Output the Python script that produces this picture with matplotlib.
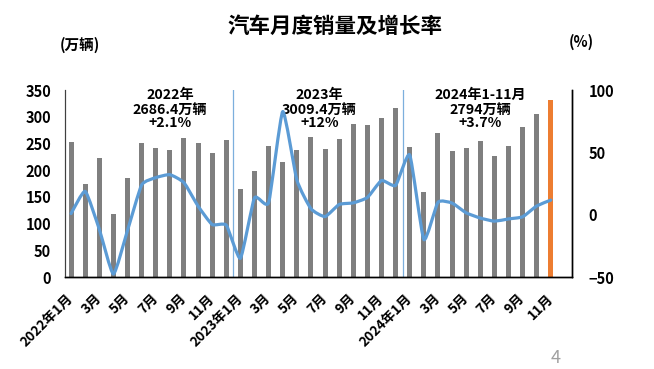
import numpy as np
import matplotlib
matplotlib.use('Agg')
import matplotlib.pyplot as plt
from matplotlib.path import Path
from matplotlib.patches import PathPatch

plt.rcParams['font.family'] = ['Noto Sans CJK SC', 'DejaVu Sans']
plt.rcParams['font.weight'] = 'bold'

### monthly data, 2022-01 .. 2024-11
sales = [253.1, 173.7, 223.4, 118.1, 186.2, 250.2, 242.0, 238.3, 261.0, 250.0, 232.7, 255.6,
         164.9, 197.6, 245.1, 215.9, 238.2, 262.2, 238.7, 258.2, 285.8, 285.3, 297.0, 315.6,
         243.9, 158.4, 269.4, 235.9, 241.7, 255.2, 226.2, 245.3, 280.9, 305.3, 331.7]
growth = [0.9, 18.7, -11.7, -47.6, -12.6, 23.8, 29.7, 32.1, 25.7, 6.9, -7.9, -8.4,
          -35.0, 13.5, 9.7, 82.7, 27.9, 4.8, -1.5, 8.2, 9.5, 13.8, 27.4, 23.5,
          47.9, -19.9, 9.9, 9.3, 1.5, -2.7, -5.2, -3.4, -1.7, 7.0, 11.7]
tickLabels = ['2022年1月', '3月', '5月', '7月', '9月', '11月',
              '2023年1月', '3月', '5月', '7月', '9月', '11月',
              '2024年1月', '3月', '5月', '7月', '9月', '11月']
yearNotes = ['2022年\n2686.4万辆\n+2.1%', '2023年\n3009.4万辆\n+12%', '2024年1-11月\n2794万辆\n+3.7%']

gray = '#7f7f7f'
orange = '#ed7d31'
blue = '#5b9bd5'

x = np.arange(len(sales))
barColors = [gray] * (len(sales) - 1) + [orange]

fig = plt.figure(figsize=(6.54, 3.69), dpi=100)
ax = fig.add_axes([0.0994, 0.2493, 0.7752, 0.5067])
ax2 = ax.twinx()

ax.bar(x, sales, width=0.36, color=barColors, zorder=2)
ax.set_xlim(-0.43, 35.5)
ax.set_ylim(0, 350)
ax.set_yticks(range(0, 351, 50))
ax.set_xticks(x[::2])
ax.set_xticklabels(tickLabels, rotation=45, ha='right', va='center',
                   rotation_mode='anchor', fontsize=9.8, fontweight='bold')
ax.tick_params(axis='both', length=0)
ax.tick_params(axis='y', pad=10, labelsize=10.5)
ax.tick_params(axis='x', pad=14)
for lab in ax.get_yticklabels():
    lab.set_fontweight('bold')

# separators between years
for sep in [11.5, 23.5]:
    ax.axvline(sep, color=blue, lw=0.9, alpha=0.8, zorder=1)

# growth line, lightly smoothed like the office chart
pts = np.column_stack([x, growth]).astype(float)
verts = [tuple(pts[0])]
codes = [Path.MOVETO]
n = len(pts)
for i in range(n - 1):
    p0 = pts[max(i - 1, 0)]
    p1 = pts[i]
    p2 = pts[i + 1]
    p3 = pts[min(i + 2, n - 1)]
    c1 = p1 + (p2 - p0) / 12.0
    c2 = p2 - (p3 - p1) / 12.0
    verts += [tuple(c1), tuple(c2), tuple(p2)]
    codes += [Path.CURVE4] * 3
ax2.add_patch(PathPatch(Path(verts, codes), facecolor='none', edgecolor=blue,
                        lw=2.3, capstyle='round', joinstyle='round', zorder=3))
ax2.set_ylim(-50, 100)
ax2.set_yticks([-50, 0, 50, 100])
ax2.tick_params(axis='y', length=0, labelsize=10.5, pad=12)
for lab in ax2.get_yticklabels():
    lab.set_fontweight('bold')

for a in [ax, ax2]:
    a.spines['top'].set_visible(False)
    a.spines['left'].set_color('#404040')
    a.spines['right'].set_color('black')
    a.spines['bottom'].set_color('black')
    a.spines['left'].set_linewidth(0.8)
    a.spines['right'].set_linewidth(1.0)
    a.spines['bottom'].set_linewidth(1.0)

# year annotations
noteX = [7.0, 17.6, 29.0]
for nx, txt in zip(noteX, yearNotes):
    ax.text(nx, 353, txt, ha='center', va='top', fontsize=10.2, fontweight='bold',
            linespacing=1.0, zorder=4)

fig.text(0.512, 0.928, '汽车月度销量及增长率', ha='center', va='center',
         fontsize=15.5, fontweight='bold')
fig.text(0.092, 0.878, '(万辆)', ha='left', va='center', fontsize=10.5, fontweight='bold')
fig.text(0.870, 0.886, '(%)', ha='left', va='center', fontsize=10.5, fontweight='bold')
fig.text(0.850, 0.030, '4', ha='center', va='center', fontsize=13, color='#a0a0a0',
         fontweight='normal')

fig.savefig('out.png', dpi=100)
plt.close()
